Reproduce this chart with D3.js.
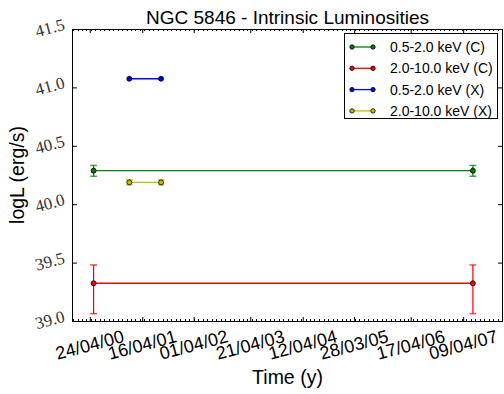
<!DOCTYPE html>
<html>
<head>
<meta charset="utf-8">
<script src="https://cdn.jsdelivr.net/npm/d3@7"></script>
<style>
  body { margin: 0; background: #fff; }
  svg { display: block; font-family: "Liberation Sans", Arial, sans-serif; }
</style>
</head>
<body>
<svg id="chart" width="504" height="394"></svg>
<script>
// Data
const parse = d3.timeParse("%Y-%m-%d");
const seriesNames = ["0.5-2.0 keV (C)", "2.0-10.0 keV (C)", "0.5-2.0 keV (X)", "2.0-10.0 keV (X)"];
const chandraDates = ["2000-05-20", "2007-06-14"];
const xmmDates = ["2001-01-18", "2001-08-22"];
const softC = [40.287, 40.287];
const softCErrLo = [0.048, 0.048];
const softCErrHi = [0.045, 0.045];
const hardC = [39.323, 39.323];
const hardCErrLo = [0.26, 0.26];
const hardCErrHi = [0.157, 0.157];
const softX = [41.074, 41.074];
const hardX = [40.187, 40.187];
const hardXErr = [0.022, 0.022];
const xTickDates = ["2000-04-24", "2001-04-16", "2002-04-01", "2003-04-21", "2004-04-12", "2005-03-28", "2006-04-17", "2007-04-09"];
const yTicks = [39.0, 39.5, 40.0, 40.5, 41.0, 41.5];

const colors = ["#008000", "#ff0000", "#0000ff", "#bfbf00"];

// series table built from the arrays above
const series = [
  {name: seriesNames[0], color: colors[0], dates: chandraDates, v: softC, lo: softCErrLo, hi: softCErrHi},
  {name: seriesNames[1], color: colors[1], dates: chandraDates, v: hardC, lo: hardCErrLo, hi: hardCErrHi},
  {name: seriesNames[2], color: colors[2], dates: xmmDates, v: softX, lo: null, hi: null},
  {name: seriesNames[3], color: colors[3], dates: xmmDates, v: hardX, lo: hardXErr, hi: hardXErr}
];

const margin = {top: 29, right: 1, bottom: 73, left: 72};
const width = 504, height = 394;
const svg = d3.select("#chart");

const x = d3.scaleTime()
  .domain([parse("1999-12-25"), parse("2008-01-05")])
  .range([margin.left, width - margin.right]);
const y = d3.scaleLinear()
  .domain([39.0, 41.5])
  .range([height - margin.bottom, margin.top]);

const x0 = margin.left, x1 = width - margin.right;
const y0 = height - margin.bottom, y1 = margin.top;

// minor (monthly) ticks bottom and top
const months = d3.timeMonth.range(x.domain()[0], x.domain()[1]);
const tickDates = xTickDates.map(parse);
svg.append("g").selectAll("line")
  .data(months)
  .enter().append("line")
  .attr("x1", d => Math.round(x(d)) + 0.5).attr("x2", d => Math.round(x(d)) + 0.5)
  .attr("y1", y0).attr("y2", y0 - 2)
  .attr("stroke", "#000").attr("stroke-width", 1);
svg.append("g").selectAll("line")
  .data(months)
  .enter().append("line")
  .attr("x1", d => Math.round(x(d)) + 0.5).attr("x2", d => Math.round(x(d)) + 0.5)
  .attr("y1", y1).attr("y2", y1 + 2)
  .attr("stroke", "#000").attr("stroke-width", 1);

// major x ticks (inward) with the d3 axes
svg.append("g")
  .attr("transform", `translate(0,${y0})`)
  .call(d3.axisBottom(x).tickValues(tickDates).tickSize(-4).tickFormat(""))
  .call(g => g.select(".domain").remove());
svg.append("g")
  .attr("transform", `translate(0,${y1})`)
  .call(d3.axisTop(x).tickValues(tickDates).tickSize(-4).tickFormat(""))
  .call(g => g.select(".domain").remove());

// y ticks left and right (inward)
svg.append("g")
  .attr("transform", `translate(${x0},0)`)
  .call(d3.axisLeft(y).tickValues(yTicks).tickSize(-5).tickFormat(""))
  .call(g => g.select(".domain").remove());
svg.append("g")
  .attr("transform", `translate(${x1},0)`)
  .call(d3.axisRight(y).tickValues(yTicks).tickSize(-5).tickFormat(""))
  .call(g => g.select(".domain").remove());

// frame
svg.append("rect")
  .attr("x", x0 + 0.5).attr("y", y1 + 0.5)
  .attr("width", x1 - x0 - 1).attr("height", y0 - y1)
  .attr("fill", "none").attr("stroke", "#000").attr("stroke-width", 1);

// x tick labels rotated
const fmt = d3.timeFormat("%d/%m/%y");
svg.append("g").selectAll("text")
  .data(tickDates)
  .enter().append("text")
  .attr("transform", d => `translate(${x(d)},${y0 + 24}) rotate(-15)`)
  .attr("text-anchor", "middle")
  .attr("dominant-baseline", "central")
  .style("font-size", "18px")
  .text(d => fmt(d));

// y tick labels rotated, serif
svg.append("g").selectAll("text")
  .data(yTicks)
  .enter().append("text")
  .attr("transform", d => `translate(${x0 - 22},${y(d) - 1}) rotate(-15)`)
  .attr("text-anchor", "middle")
  .attr("dominant-baseline", "central")
  .style("font-family", "'Liberation Serif', serif")
  .style("font-size", "17px")
  .style("fill", "#333")
  .text(d => d.toFixed(1));

// series: line, error bars, markers
series.forEach(s => {
  const pts = s.dates.map((d, i) => ({t: parse(d), v: s.v[i], lo: s.lo ? s.lo[i] : 0, hi: s.hi ? s.hi[i] : 0}));
  const g = svg.append("g");
  g.append("path")
    .datum(pts)
    .attr("d", d3.line().x(d => x(d.t)).y(d => y(d.v)))
    .attr("fill", "none")
    .attr("stroke", s.color)
    .attr("stroke-width", 1.3);
  if (s.lo) {
    g.selectAll(".err").data(pts).enter().append("line")
      .attr("x1", d => x(d.t)).attr("x2", d => x(d.t))
      .attr("y1", d => y(d.v - d.lo)).attr("y2", d => y(d.v + d.hi))
      .attr("stroke", s.color).attr("stroke-width", 1.2);
    g.selectAll(".capHi").data(pts).enter().append("line")
      .attr("x1", d => x(d.t) - 3.5).attr("x2", d => x(d.t) + 3.5)
      .attr("y1", d => y(d.v + d.hi)).attr("y2", d => y(d.v + d.hi))
      .attr("stroke", s.color).attr("stroke-width", 1.5).attr("opacity", 0.7);
    g.selectAll(".capLo").data(pts).enter().append("line")
      .attr("x1", d => x(d.t) - 3.5).attr("x2", d => x(d.t) + 3.5)
      .attr("y1", d => y(d.v - d.lo)).attr("y2", d => y(d.v - d.lo))
      .attr("stroke", s.color).attr("stroke-width", 1.5).attr("opacity", 0.7);
  }
  g.selectAll("circle").data(pts).enter().append("circle")
    .attr("cx", d => x(d.t)).attr("cy", d => y(d.v))
    .attr("r", 2.5)
    .attr("fill", s.color)
    .attr("stroke", "#000").attr("stroke-width", 0.8);
});

// title and axis labels
svg.append("text")
  .attr("x", (x0 + x1) / 2).attr("y", 24)
  .attr("text-anchor", "middle")
  .style("font-size", "19px")
  .text("NGC 5846 - Intrinsic Luminosities");
svg.append("text")
  .attr("x", (x0 + x1) / 2).attr("y", 384)
  .attr("text-anchor", "middle")
  .style("font-size", "19.5px")
  .text("Time (y)");
svg.append("text")
  .attr("transform", `translate(24,${(y0 + y1) / 2}) rotate(-90)`)
  .attr("text-anchor", "middle")
  .style("font-size", "19.5px")
  .text("logL (erg/s)");

// legend
const legend = svg.append("g").attr("transform", "translate(344,33)");
legend.append("rect")
  .attr("x", 0.5).attr("y", 0.5).attr("width", 153).attr("height", 85)
  .attr("fill", "#fff").attr("stroke", "#000").attr("stroke-width", 1);
const rows = legend.selectAll(".row").data(series).enter().append("g")
  .attr("transform", (d, i) => `translate(0,${14 + i * 21.3})`);
rows.append("line")
  .attr("x1", 8).attr("x2", 29).attr("y1", 0).attr("y2", 0)
  .attr("stroke", d => d.color).attr("stroke-width", 1.3);
rows.selectAll("circle").data(d => [d, d]).enter().append("circle")
  .attr("cx", (d, i) => i ? 29 : 8).attr("cy", 0).attr("r", 2.2)
  .attr("fill", d => d.color).attr("stroke", "#000").attr("stroke-width", 0.8);
rows.append("text")
  .attr("x", 46).attr("y", 0)
  .attr("dominant-baseline", "central")
  .style("font-size", "14px")
  .text(d => d.name);
</script>
</body>
</html>
